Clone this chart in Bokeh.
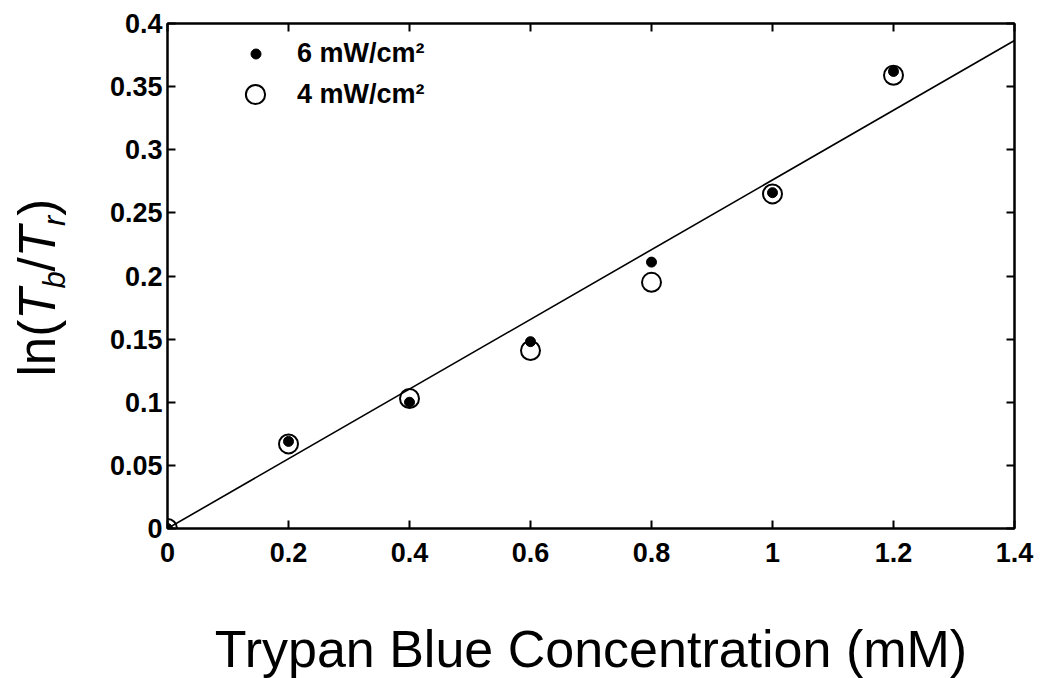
import math
from bokeh.plotting import figure
from bokeh.layouts import column, row
from bokeh.models import Range1d, FixedTicker, LinearAxis, Legend, LegendItem
from bokeh.core.properties import value
from bokeh.embed import file_html
from bokeh.resources import INLINE

# ---- data ----
conc = [0.0, 0.2, 0.4, 0.6, 0.8, 1.0, 1.2]
ln_6mw = [0.0, 0.069, 0.100, 0.148, 0.211, 0.266, 0.362]
ln_4mw = [0.0, 0.067, 0.103, 0.141, 0.195, 0.265, 0.359]
fit_x = [0.0, 1.4]
fit_y = [0.0, 0.3865]

x_ticks = [0, 0.2, 0.4, 0.6, 0.8, 1.0, 1.2, 1.4]
x_tick_labels = ["0", "0.2", "0.4", "0.6", "0.8", "1", "1.2", "1.4"]
y_ticks = [0, 0.05, 0.1, 0.15, 0.2, 0.25, 0.3, 0.35, 0.4]
y_tick_labels = ["0", "0.05", "0.1", "0.15", "0.2", "0.25", "0.3", "0.35", "0.4"]

series_labels = ["6 mW/cm\u00b2", "4 mW/cm\u00b2"]
x_title = "Trypan Blue Concentration (mM)"
y_title_parts = ["ln(", "T", "b", "/", "T", "r", ")"]

FONT = "Liberation Sans"

TOTAL_W, TOTAL_H = 1050, 678
YLAB_W = 90
MAIN_H = 585
FRAME_TOP, FRAME_BOTTOM = 23, 528

# ---------------- main plot ----------------
p = figure(width=TOTAL_W - YLAB_W, height=MAIN_H, output_backend="svg", toolbar_location=None,
           x_range=Range1d(0, 1.4), y_range=Range1d(0, 0.4),
           min_border_left=167 - YLAB_W, min_border_right=36, min_border_top=FRAME_TOP,
           min_border_bottom=MAIN_H - FRAME_BOTTOM,
           background_fill_color="white", border_fill_color="white")
p.grid.visible = False
p.outline_line_color = "black"
p.outline_line_width = 2


def style_axis(ax, ticks, labels, show_labels=True, standoff=5):
    ax.ticker = FixedTicker(ticks=ticks)
    ax.major_label_overrides = {t: l for t, l in zip(ticks, labels)}
    ax.axis_line_color = "black"
    ax.axis_line_width = 2
    ax.major_tick_in = 8
    ax.major_tick_out = 0
    ax.major_tick_line_width = 2
    ax.minor_tick_line_color = None
    ax.major_label_text_font = FONT
    ax.major_label_text_font_style = "bold"
    ax.major_label_text_color = "black"
    if show_labels:
        ax.major_label_text_font_size = "27px"
        ax.major_label_standoff = standoff
    else:
        ax.major_label_text_font_size = "0px"
        ax.major_label_standoff = 0


style_axis(p.xaxis[0], x_ticks, x_tick_labels, True, 14)
style_axis(p.yaxis[0], y_ticks, y_tick_labels, True, 5)
top_ax = LinearAxis()
right_ax = LinearAxis()
style_axis(top_ax, x_ticks, x_tick_labels, False)
style_axis(right_ax, y_ticks, y_tick_labels, False)
p.add_layout(top_ax, "above")
p.add_layout(right_ax, "right")

# fit line
p.line(fit_x, fit_y, line_color="black", line_width=1.6)

# markers
r4 = p.scatter(conc, ln_4mw, marker="circle", size=19, fill_color=None,
               line_color="black", line_width=2)
r6 = p.scatter(conc, ln_6mw, marker="circle", size=10, fill_color="black",
               line_color="black", line_width=1)

common = dict(padding=0, margin=0, border_line_color=None, background_fill_alpha=0,
              label_text_font=FONT, label_text_font_style="bold",
              label_text_font_size="27px", label_text_baseline="middle",
              label_text_color="black")
leg_a = Legend(items=[LegendItem(label=series_labels[0], renderers=[r6])],
               location=(76, 459), glyph_width=25, glyph_height=31, label_height=31,
               label_standoff=29, **common)
leg_b = Legend(items=[LegendItem(label=series_labels[1], renderers=[r4])],
               location=(64, 410), glyph_width=48, glyph_height=48, label_height=48,
               label_standoff=18, **common)
p.add_layout(leg_a, "center")
p.add_layout(leg_b, "center")


def blank_fig(w, h, y0=0, y1=None):
    f = figure(width=w, height=h, output_backend="svg", toolbar_location=None,
               x_range=Range1d(0, w), y_range=Range1d(y0, h if y1 is None else y1),
               x_axis_type=None, y_axis_type=None, min_border=0,
               background_fill_color="white", border_fill_color="white")
    f.outline_line_color = None
    return f


# ---------------- y title (rotated, with italic subscripts) ----------------
# frame of this helper figure is aligned with the main frame, so its y range
# is set such that data y = MAIN_H - page y
yl = blank_fig(YLAB_W, MAIN_H, MAIN_H - FRAME_BOTTOM, MAIN_H - FRAME_TOP)
ang = math.pi / 2
sizes = [51, 51, 31, 51, 51, 31, 51]
styles = ["normal", "italic", "italic", "normal", "italic", "italic", "normal"]
base_x = [55, 55, 65, 55, 55, 65, 55]
ys = [209.0, 265.7, 296.9, 314.1, 328.3, 359.5, 369.8]
for txt, fs, st, bx, yy in zip(y_title_parts, sizes, styles, base_x, ys):
    yl.text(x=[bx - 0.3465 * fs], y=[yy], text=[txt], angle=ang, text_font=value(FONT),
            text_font_size=value(f"{fs}px"), text_font_style=value(st),
            text_align="left", text_baseline="middle", text_color="black")

# ---------------- x title ----------------
XL_H = TOTAL_H - MAIN_H
xl = blank_fig(TOTAL_W, XL_H)
xl.text(x=[590.5], y=[XL_H - (667 - 0.3465 * 52 - MAIN_H)], text=[x_title],
        text_font=value(FONT), text_font_size=value("52px"), text_align="center",
        text_baseline="middle", text_color="black")

layout = column(row(yl, p, spacing=0), xl, spacing=0)

open("out.html", "w").write(file_html(layout, INLINE))
